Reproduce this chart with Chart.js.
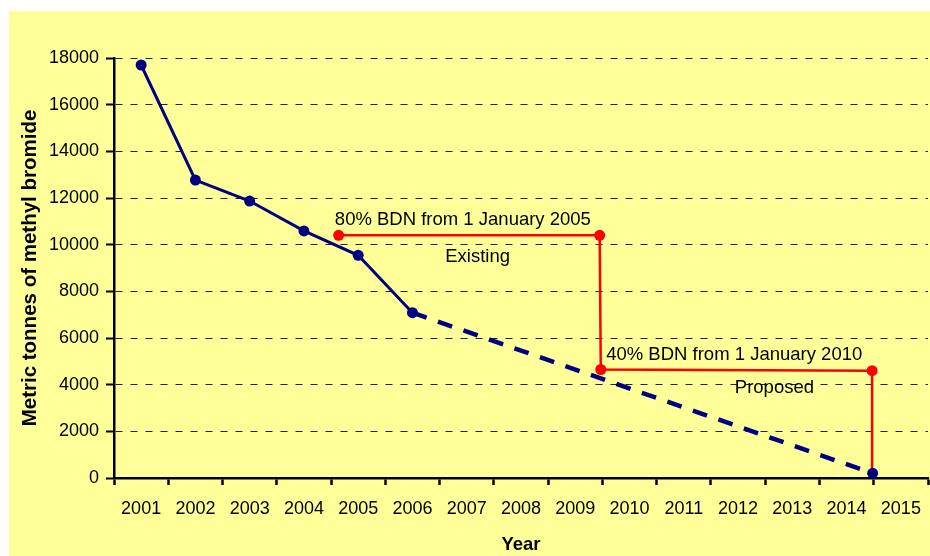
<!DOCTYPE html>
<html>
<head>
<meta charset="utf-8">
<script src="https://cdn.jsdelivr.net/npm/chart.js@4/dist/chart.umd.min.js"></script>
<style>
  html, body { margin: 0; padding: 0; background: #ffffff; }
  #wrap { width: 930px; height: 556px; position: relative; }
</style>
</head>
<body>
<div id="wrap"><canvas id="chart" width="930" height="556"></canvas></div>
<script>
// ---- data ----
const years = [2001, 2002, 2003, 2004, 2005, 2006, 2007, 2008, 2009, 2010, 2011, 2012, 2013, 2014, 2015];
const yearBoundaries = [2000.5, 2001.5, 2002.5, 2003.5, 2004.5, 2005.5, 2006.5, 2007.5, 2008.5, 2009.5, 2010.5, 2011.5, 2012.5, 2013.5, 2014.5, 2015.5];
const actualYears = [2001, 2002, 2003, 2004, 2005, 2006];
const actualValues = [17700, 12770, 11870, 10590, 9545, 7085];
const projectionYears = [2006, 2014.48];
const projectionValues = [7085, 200];
const scheduleYears = [2004.64, 2009.45, 2009.47, 2014.47, 2014.47];
const scheduleValues = [10400, 10400, 4650, 4600, 200];
const yTickValues = [0, 2000, 4000, 6000, 8000, 10000, 12000, 14000, 16000, 18000];
const annotationTexts = ['80% BDN from 1 January 2005', 'Existing', '40% BDN from 1 January 2010', 'Proposed'];
const annotationYears = [2004.57, 2007.20, 2009.57, 2012.67];
const annotationValues = [10845, 9257, 5057, 3643];
const yAxisTitle = 'Metric tonnes of methyl bromide';
const xAxisTitle = 'Year';

// ---- chart ----
const FONT = '"Liberation Sans", Arial, Helvetica, sans-serif';
Chart.defaults.font.family = FONT;
Chart.defaults.color = '#000000';

const toPoints = (xs, ys) => xs.map((x, i) => ({ x: x, y: ys[i] }));

const backgroundPlugin = {
  id: 'bg',
  beforeDraw(chart) {
    const ctx = chart.ctx;
    ctx.save();
    ctx.fillStyle = '#ffffff';
    ctx.fillRect(0, 0, chart.width, chart.height);
    ctx.fillStyle = '#FFFF99';
    ctx.fillRect(9, 11, chart.width - 9, chart.height - 11);
    ctx.restore();
  }
};

const annotationPlugin = {
  id: 'notes',
  afterDatasetsDraw(chart) {
    const ctx = chart.ctx;
    const xs = chart.scales.x, ys = chart.scales.y;
    const aligns = ['left', 'center', 'left', 'center'];
    ctx.save();
    ctx.font = '18.5px ' + FONT;
    ctx.fillStyle = '#000000';
    ctx.textBaseline = 'alphabetic';
    annotationTexts.forEach((t, i) => {
      ctx.textAlign = aligns[i];
      ctx.fillText(t, xs.getPixelForValue(annotationYears[i]), ys.getPixelForValue(annotationValues[i]));
    });
    ctx.restore();
  }
};

new Chart(document.getElementById('chart'), {
  type: 'line',
  data: {
    datasets: [
      {
        label: 'Actual',
        data: toPoints(actualYears, actualValues),
        borderColor: '#000080',
        backgroundColor: '#000080',
        borderWidth: 3,
        pointRadius: 5.5,
        pointBorderWidth: 0,
        pointBackgroundColor: '#000080',
        tension: 0,
        order: 0
      },
      {
        label: 'Projection',
        data: toPoints(projectionYears, projectionValues),
        borderColor: '#000080',
        backgroundColor: '#000080',
        borderWidth: 4.5,
        borderDash: [15, 12],
        pointRadius: [0, 5.5],
        pointBorderWidth: 0,
        pointBackgroundColor: '#000080',
        tension: 0,
        order: 1
      },
      {
        label: 'Schedule',
        data: toPoints(scheduleYears, scheduleValues),
        borderColor: '#FF0000',
        backgroundColor: '#FF0000',
        borderWidth: 2.5,
        pointRadius: [5.5, 5.5, 5.5, 5.5, 0],
        pointBorderWidth: 0,
        pointBackgroundColor: '#FF0000',
        tension: 0,
        order: 2
      }
    ]
  },
  options: {
    responsive: false,
    animation: false,
    devicePixelRatio: 1,
    clip: false,
    layout: { autoPadding: false, padding: { top: 58, right: 2, bottom: 0, left: 0 } },
    plugins: { legend: { display: false }, tooltip: { enabled: false } },
    events: [],
    scales: {
      x: {
        type: 'linear',
        min: 2000.5,
        max: 2015.5,
        afterBuildTicks: s => { s.ticks = yearBoundaries.concat(years).sort((a, b) => a - b).map(v => ({ value: v })); },
        afterFit: s => { s.height = 78; s.paddingRight = 0; s.paddingLeft = 0; },
        grid: {
          drawOnChartArea: false,
          drawTicks: true,
          tickLength: 7,
          tickWidth: 2.5,
          tickColor: c => (c.tick && c.tick.value % 1 !== 0) ? '#000000' : 'rgba(0,0,0,0)'
        },
        border: { display: true, color: '#000000', width: 2.5 },
        ticks: {
          autoSkip: false,
          maxRotation: 0,
          padding: 13,
          font: { size: 18 },
          color: '#000000',
          callback: v => (v % 1 === 0 ? String(v) : '')
        },
        title: {
          display: true,
          text: xAxisTitle,
          font: { size: 18.5, weight: 'bold' },
          color: '#000000',
          padding: { top: 0, bottom: 0 }
        }
      },
      y: {
        type: 'linear',
        min: 0,
        max: 18000,
        afterBuildTicks: s => { s.ticks = yTickValues.map(v => ({ value: v })); },
        afterFit: s => { s.width = 114; },
        grid: {
          color: '#222222',
          lineWidth: 1,
          drawTicks: true,
          tickLength: 8,
          tickWidth: 2,
          tickColor: '#000000'
        },
        border: { display: true, color: '#000000', width: 2.5, dash: [7, 8] },
        ticks: {
          padding: 7,
          font: { size: 18 },
          color: '#000000',
          callback: v => String(v)
        },
        title: {
          display: true,
          text: yAxisTitle,
          font: { size: 20.5, weight: 'bold' },
          color: '#000000',
          padding: { top: 18, bottom: 0 }
        }
      }
    }
  },
  plugins: [backgroundPlugin, annotationPlugin]
});
</script>
</body>
</html>
